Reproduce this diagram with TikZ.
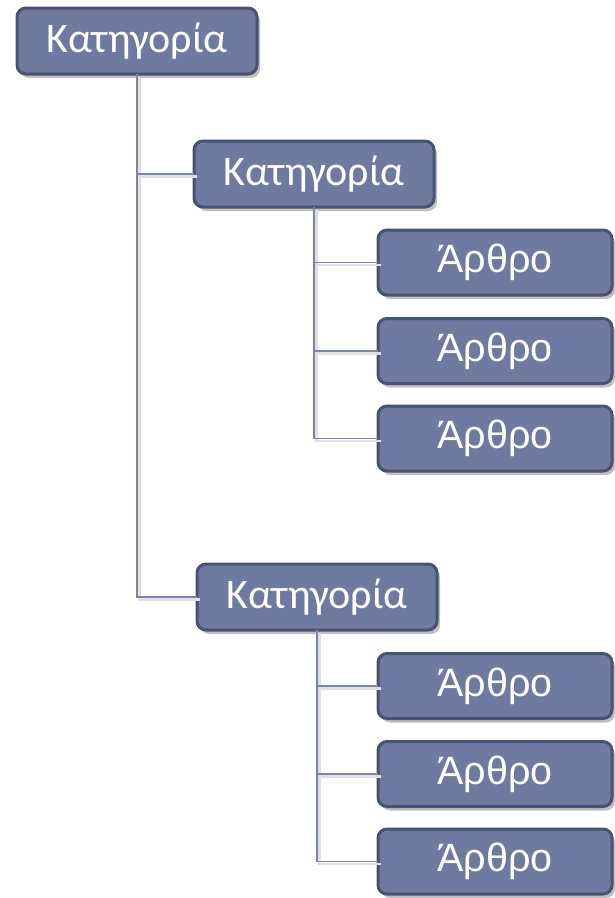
\documentclass[tikz,border=0pt]{standalone}
\usepackage{fontspec}
\newfontfamily\catfont{Carlito}
\newfontfamily\artfont{Liberation Sans}
\usetikzlibrary{shadows}
\definecolor{boxfill}{RGB}{111,122,160}
\definecolor{boxline}{RGB}{74,82,115}
\definecolor{connline}{RGB}{122,132,172}
\tikzset{
  box/.style={draw=boxline, line width=3pt, fill=boxfill, rounded corners=9pt,
    text=white, inner sep=0pt, outer sep=0pt,
    drop shadow={shadow xshift=3pt, shadow yshift=-4pt, opacity=0.25, fill=black}},
  catbox/.style={box, minimum width=240pt, minimum height=66pt, font=\catfont\fontsize{42}{48}\selectfont},
  artbox/.style={box, minimum width=234pt, minimum height=65pt, font=\artfont\fontsize{39.5}{46}\selectfont},
  conn/.style={draw=connline, line width=1.6pt},
  connshadow/.style={draw=black!12, line width=2.5pt, transform canvas={xshift=2.5pt, yshift=-2.5pt}}
}
\begin{document}
\begin{tikzpicture}[x=1pt,y=-1pt]
\useasboundingbox (0,0) rectangle (614,898);
\fill[white] (0,0) rectangle (614,898);
% nodes
\node[catbox] (c1) at (137,41) {Κατηγορία};
\node[catbox] (c2) at (314,174) {Κατηγορία};
\node[catbox] (c3) at (317,597) {Κατηγορία};
\node[artbox] (a1) at (495,262.5) {Άρθρο};
\node[artbox] (a2) at (495,351) {Άρθρο};
\node[artbox] (a3) at (495,438.5) {Άρθρο};
\node[artbox] (a4) at (495,686) {Άρθρο};
\node[artbox] (a5) at (495,774) {Άρθρο};
\node[artbox] (a6) at (495,861.5) {Άρθρο};
% connector shadows
\foreach \s/\t in {c1/c3, c2/a3, c3/a6} {
  \draw[connshadow] (\s.south) |- (\t.west);
}
\foreach \s/\t in {c1/c2, c2/a1, c2/a2, c3/a4, c3/a5} {
  \draw[connshadow] (\s.south |- \t.west) -- (\t.west);
}
% connectors
\draw[conn] (c1.south) |- (c3.west);
\draw[conn] (c1.south |- c2.west) -- (c2.west);
\draw[conn] (c2.south) |- (a3.west);
\draw[conn] (c2.south |- a1.west) -- (a1.west);
\draw[conn] (c2.south |- a2.west) -- (a2.west);
\draw[conn] (c3.south) |- (a6.west);
\draw[conn] (c3.south |- a4.west) -- (a4.west);
\draw[conn] (c3.south |- a5.west) -- (a5.west);
\end{tikzpicture}
\end{document}
